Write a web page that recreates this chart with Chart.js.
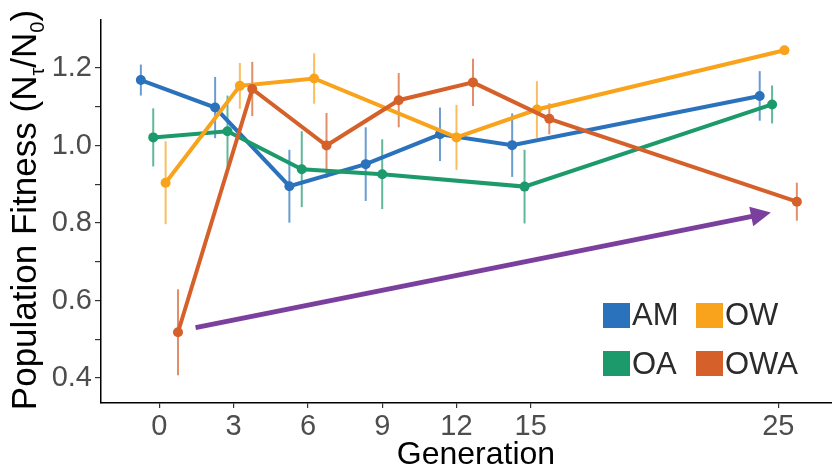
<!DOCTYPE html>
<html>
<head>
<meta charset="utf-8">
<script src="https://cdn.jsdelivr.net/npm/chart.js@4/dist/chart.umd.min.js"></script>
<style>
  html, body { margin: 0; padding: 0; background: #fff; }
  #wrap { position: relative; width: 832px; height: 473px; overflow: hidden; font-family: 'Liberation Sans', Arial, sans-serif; }
  #c { position: absolute; left: 0; top: 0; }
  .ytitle { position: absolute; width: 440px; height: 40px; line-height: 40px; text-align: center;
            font-size: 35px; color: #000; transform: rotate(-90deg); transform-origin: 50% 50%; white-space: nowrap; }
  .ytitle sub { font-size: 20px; vertical-align: -8px; line-height: 0; }
  .xtitle { position: absolute; width: 300px; height: 40px; line-height: 40px; text-align: center; font-size: 32px; color: #000; }
  .leg { position: absolute; display: flex; align-items: center; height: 26px; }
  .leg .box { width: 27px; height: 25px; }
  .leg .txt { font-size: 31px; color: #2b2b2b; margin-left: 2px; line-height: 26px; }
</style>
</head>
<body>
<div id="wrap">
  <canvas id="c" width="832" height="473"></canvas>
</div>
<script>
// ---- data ----
const generations = [0, 3, 6, 9, 12, 15, 25];
const seriesNames = ['AM', 'OA', 'OW', 'OWA'];

const amFitness  = [1.169, 1.098, 0.895, 0.952, 1.029, 1.001, 1.128];
const amError    = [0.040, 0.079, 0.094, 0.095, 0.069, 0.082, 0.064];

const oaFitness  = [1.021, 1.037, 0.939, 0.926, null, 0.894, 1.106];
const oaError    = [0.075, 0.092, 0.098, 0.090, null, 0.095, 0.049];

const owFitness  = [0.904, 1.154, 1.173, null, 1.021, 1.093, 1.246];
const owError    = [0.107, 0.059, 0.065, null, 0.084, 0.073, 0.006];

const owaFitness = [0.518, 1.146, 1.000, 1.117, 1.163, 1.069, 0.855];
const owaError   = [0.111, 0.070, 0.084, 0.070, 0.061, 0.040, 0.049];

const yTickValues  = [0.4, 0.5, 0.6, 0.7, 0.8, 0.9, 1.0, 1.1, 1.2];
const yLabelValues = [0.4, 0.6, 0.8, 1.0, 1.2];

// trend arrow (data coordinates: generation, fitness)
const arrowFrom = [1.46, 0.530];
const arrowTo   = [24.70, 0.827];

// ---- styling / layout ----
const seriesColors = ['#2B72BC', '#1D9A6C', '#F8A31B', '#D5602A'];
const dodgeWidth = 2;
const xMin = -2.36, xMax = 27.17;
const yMin = 0.3355, yMax = 1.324;

const fitness = [amFitness, oaFitness, owFitness, owaFitness];
const errors  = [amError, oaError, owError, owaError];

// ggplot-like dodge: spread the groups present at each generation
function dodged(s, i) {
  const present = fitness.map((f, k) => f[i] != null ? k : -1).filter(k => k >= 0);
  const n = present.length;
  const j = present.indexOf(s);
  return generations[i] + (j - (n - 1) / 2) * dodgeWidth / n;
}

function hexA(hex, a) {
  const r = parseInt(hex.slice(1,3),16), g = parseInt(hex.slice(3,5),16), b = parseInt(hex.slice(5,7),16);
  return `rgba(${r},${g},${b},${a})`;
}

const datasets = seriesNames.map((name, s) => ({
  label: name,
  data: generations.map((g, i) => fitness[s][i] == null ? null : { x: dodged(s, i), y: fitness[s][i] })
                   .filter(p => p !== null),
  borderColor: seriesColors[s],
  backgroundColor: seriesColors[s],
  borderWidth: 4,
  pointRadius: 5,
  pointHoverRadius: 5,
  pointBorderWidth: 0,
  showLine: true,
  tension: 0,
  order: seriesNames.length - s
}));

const errorBarPlugin = {
  id: 'errorBars',
  beforeDatasetsDraw(chart) {
    const { ctx, scales: { x, y } } = chart;
    ctx.save();
    ctx.lineWidth = 2;
    seriesNames.forEach((name, s) => {
      ctx.strokeStyle = hexA(seriesColors[s], 0.7);
      generations.forEach((g, i) => {
        const v = fitness[s][i], e = errors[s][i];
        if (v == null || e == null) return;
        const px = x.getPixelForValue(dodged(s, i));
        ctx.beginPath();
        ctx.moveTo(px, y.getPixelForValue(v - e));
        ctx.lineTo(px, y.getPixelForValue(v + e));
        ctx.stroke();
      });
    });
    ctx.restore();
  }
};

const arrowPlugin = {
  id: 'trendArrow',
  afterDatasetsDraw(chart) {
    const { ctx, scales: { x, y } } = chart;
    const x0 = x.getPixelForValue(arrowFrom[0]), y0 = y.getPixelForValue(arrowFrom[1]);
    const x1 = x.getPixelForValue(arrowTo[0]),   y1 = y.getPixelForValue(arrowTo[1]);
    const ang = Math.atan2(y1 - y0, x1 - x0);
    const headLen = 20, headHalf = 10;
    const bx = x1 - headLen * Math.cos(ang), by = y1 - headLen * Math.sin(ang);
    ctx.save();
    ctx.strokeStyle = '#7B3F9E';
    ctx.fillStyle = '#7B3F9E';
    ctx.lineWidth = 5;
    ctx.lineCap = 'butt';
    ctx.beginPath();
    ctx.moveTo(x0, y0);
    ctx.lineTo(bx + 2 * Math.cos(ang), by + 2 * Math.sin(ang));
    ctx.stroke();
    ctx.beginPath();
    ctx.moveTo(x1, y1);
    ctx.lineTo(bx + headHalf * Math.sin(ang), by - headHalf * Math.cos(ang));
    ctx.lineTo(bx - headHalf * Math.sin(ang), by + headHalf * Math.cos(ang));
    ctx.closePath();
    ctx.fill();
    ctx.restore();
  }
};

Chart.defaults.font.family = "'Liberation Sans', Arial, sans-serif";

new Chart(document.getElementById('c'), {
  type: 'scatter',
  data: { datasets },
  options: {
    responsive: false,
    animation: false,
    events: [],
    layout: { autoPadding: false, padding: { top: 20, right: 0, left: 0, bottom: 0 } },
    plugins: { legend: { display: false }, tooltip: { enabled: false } },
    scales: {
      x: {
        type: 'linear', min: xMin, max: xMax,
        grid: { drawOnChartArea: false, drawTicks: true, tickLength: 5, color: '#333', lineWidth: 1.2 },
        border: { display: true, color: '#000', width: 1.5 },
        ticks: { font: { size: 29 }, color: '#4D4D4D', padding: 2, autoSkip: false, maxRotation: 0,
                 callback: v => String(v) },
        afterBuildTicks: s => { s.ticks = generations.map(v => ({ value: v })); },
        afterFit: s => { s.height = 70; s.paddingLeft = 0; s.paddingRight = 0; }
      },
      y: {
        type: 'linear', min: yMin, max: yMax,
        grid: { drawOnChartArea: false, drawTicks: true, tickLength: 6, color: '#333', lineWidth: 1.2 },
        border: { display: true, color: '#000', width: 1.5 },
        ticks: { font: { size: 29 }, color: '#4D4D4D', padding: 3,
                 callback: v => yLabelValues.some(l => Math.abs(l - v) < 1e-6) ? v.toFixed(1) : '' },
        afterBuildTicks: s => { s.ticks = yTickValues.map(v => ({ value: v })); },
        afterFit: s => { s.width = 101; s.paddingTop = 0; s.paddingBottom = 0; }
      }
    }
  },
  plugins: [errorBarPlugin, arrowPlugin]
});

// ---- titles & legend as HTML text ----
const wrap = document.getElementById('wrap');
const yt = document.createElement('div');
yt.className = 'ytitle';
yt.innerHTML = 'Population Fitness (N<sub>τ</sub>/N<sub>0</sub>)';
yt.style.left = (24 - 220) + 'px';
yt.style.top = (210 - 20) + 'px';
wrap.appendChild(yt);

const xt = document.createElement('div');
xt.className = 'xtitle';
xt.textContent = 'Generation';
xt.style.left = (476 - 150) + 'px';
xt.style.top = (453 - 20) + 'px';
wrap.appendChild(xt);

seriesNames.forEach((name, s) => {
  const col = Math.floor(s / 2), row = s % 2;
  const d = document.createElement('div');
  d.className = 'leg';
  d.style.left = (603 + col * 93) + 'px';
  d.style.top = (302 + row * 48.5) + 'px';
  d.innerHTML = `<div class="box" style="background:${seriesColors[s]}"></div><span class="txt">${name}</span>`;
  wrap.appendChild(d);
});
</script>
</body>
</html>
